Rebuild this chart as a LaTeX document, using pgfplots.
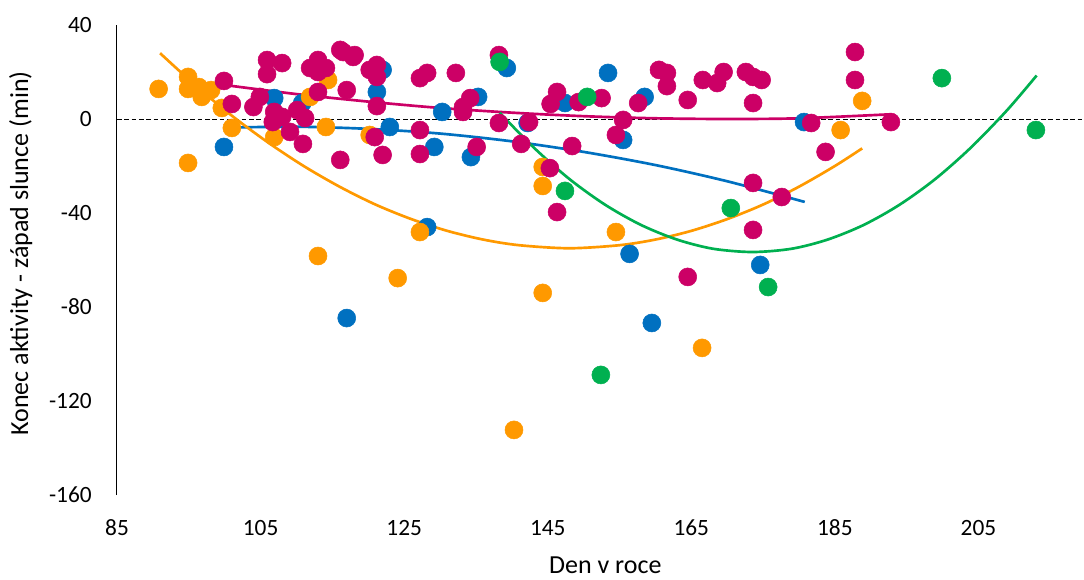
\documentclass[border=0pt]{standalone}
\usepackage{fontspec}
\setmainfont{Carlito}
\usepackage{pgfplots}
\pgfplotsset{compat=1.18}
\definecolor{cblue}{HTML}{0070C0}
\definecolor{corange}{HTML}{FF9900}
\definecolor{cmag}{HTML}{CC0066}
\definecolor{cgreen}{HTML}{00B050}
\begin{document}
\begin{tikzpicture}
\begin{axis}[
  name=ax,
  scale only axis, width=725.25pt, height=352.5pt,
  xmin=85, xmax=219.7, ymin=-160, ymax=40,
  xtick={85,105,...,205}, ytick={-160,-120,...,40},
  axis y line*=left, axis x line*=bottom,
  x axis line style={draw=none},
  y axis line style={black, line width=0.75pt, -},
  tick style={draw=none},
  /pgf/number format/assume math mode=true,
  ticklabel style={font=\fontsize{17.5}{20}\selectfont, inner sep=0pt},
  yticklabel style={anchor=east, xshift=-18.75pt},
  xticklabel style={anchor=center, yshift=-24.75pt},
  xlabel={Den v roce}, ylabel={Konec aktivity - západ slunce (min)},
  every axis x label/.style={at={(axis description cs:0.505,0)}, anchor=base, yshift=-58.5pt, inner sep=0pt, font=\fontsize{19.5}{22}\selectfont},
  every axis y label/.style={at={(axis description cs:-0.092,0.514)}, rotate=90, anchor=base, inner sep=0pt, font=\fontsize{19.5}{22}\selectfont},
  every axis plot/.append style={mark=*, only marks, mark size=6.75pt},
]
\addplot[dashed, dash pattern=on 3.5pt off 2pt, black, line width=0.75pt, mark=none, sharp plot] coordinates {(85,0) (219.7,0)};
% blue
\addplot[cblue, mark options={draw=cblue, fill=cblue}] coordinates {
(99.9,-11.9) (106.9,8.9) (110.8,6.8) (117.0,-84.7) (122.0,20.9) (121.2,11.5)
(130.3,3.0) (123.0,-3.4) (129.2,-11.9) (134.3,-16.2) (135.3,9.4) (139.3,21.7)
(142.2,-1.7) (128.2,-46.0) (153.4,19.6) (158.5,9.4) (155.5,-8.9) (147.4,6.8)
(156.4,-57.4) (159.5,-86.8) (174.6,-62.1) (180.7,-1.3)
};
% orange
\addplot[corange, mark options={draw=corange, fill=corange}] coordinates {
(90.8,12.8) (94.9,17.9) (94.9,12.8) (96.4,13.6) (96.8,9.4) (98.1,12.3)
(99.6,4.7) (101.0,-3.8) (106.9,-7.7) (111.9,9.4) (114.1,-3.4) (114.4,16.6)
(94.9,-18.7) (113.0,-58.3) (120.2,-6.8) (127.2,-48.1) (124.1,-67.7)
(144.3,-20.4) (144.3,-28.5) (144.3,-74.0) (154.5,-48.1) (140.3,-132.3)
(166.5,-97.4) (188.8,7.7) (185.8,-4.7)
};
% magenta
\addplot[cmag, mark options={draw=cmag, fill=cmag}] coordinates {
(99.9,16.2) (101.0,6.4) (104.0,5.1) (104.9,9.4) (105.9,25.1) (108.0,23.8)
(105.9,19.1) (106.9,3.0) (106.7,-1.3) (109.1,-5.5) (108.0,0.9) (110.1,3.8)
(111.2,0.4) (110.9,-10.6) (111.9,21.7) (113.0,25.1) (113.0,20.0) (114.1,21.7)
(113.0,11.5) (116.1,29.4) (117.9,26.4) (117.0,12.3) (116.1,-17.4)
(116.5,28.5) (118.1,27.2) (120.2,20.9) (121.2,23.0) (121.2,17.9) (121.2,5.5)
(120.9,-7.7) (122.0,-15.3) (127.2,17.4) (128.2,19.6) (132.2,19.6)
(127.2,-4.7) (127.2,-14.9) (133.2,5.1) (134.2,8.9) (133.2,3.0) (135.1,-11.9)
(138.2,27.2) (138.2,-1.7) (141.3,-10.6) (142.4,-1.3) (146.3,11.5) (145.4,6.4)
(149.3,7.2) (152.5,8.9) (145.3,-20.9) (146.3,-39.6) (148.4,-11.5)
(157.6,6.8) (155.5,-0.4) (154.5,-6.8) (160.5,20.9) (161.6,19.6) (161.6,14.0)
(164.5,8.1) (166.6,16.6) (168.6,15.3) (164.5,-67.2) (169.5,20.0)
(172.6,20.0) (173.6,17.9) (174.8,16.6) (173.6,6.8) (173.6,-27.2)
(177.6,-33.2) (173.6,-47.2) (181.7,-1.7) (183.7,-14.0) (187.8,28.5)
(187.8,16.6) (192.8,-1.3)
};
% green
\addplot[cgreen, mark options={draw=cgreen, fill=cgreen}] coordinates {
(138.3,24.3) (150.5,9.4) (147.4,-30.6) (170.5,-37.9) (175.7,-71.5)
(152.4,-108.9) (199.9,17.4) (213.0,-4.7)
};
% trend lines
\addplot[cblue, line width=2pt, mark=none, smooth] coordinates {
(99.8,-3.7) (110,-3.3) (120,-4.2) (130,-6.2) (140,-9.5) (150,-14.0) (160,-19.6) (170,-26.5) (180.8,-35.3)
};
\addplot[corange, line width=2pt, mark=none, smooth] coordinates {
(91,28.0) (96,14.1) (101,1.4) (106,-9.9) (111,-20.0) (116,-28.8) (121,-36.4) (126,-42.6) (131,-47.6) (136,-51.3) (141,-53.7) (148,-55) (155,-53.7) (160,-51.3) (165,-47.6) (170,-42.6) (175,-36.4) (180,-28.8) (185,-20.0) (188.8,-12.5)
};
\addplot[cmag, line width=2pt, mark=none, smooth] coordinates {
(99.9,14.5) (110,10.6) (120,7.4) (130,4.7) (140,2.7) (150,1.2) (160,0.3) (170,0) (180,0.3) (192.7,2.0)
};
\addplot[cgreen, line width=2pt, mark=none, smooth] coordinates {
(138.3,2.7) (143,-12.0) (148,-25.5) (153,-36.5) (158,-45.1) (163,-51.3) (168,-55.2) (173.5,-56.6) (179,-55.2) (184,-51.3) (189,-45.1) (194,-36.5) (199,-25.5) (204,-12.0) (209,3.8) (213.1,18.5)
};
\end{axis}
\pgfresetboundingbox
\path (ax.south west) ++(-87.75pt,-63pt) rectangle ++(813pt,434.25pt);
\end{tikzpicture}
\end{document}
